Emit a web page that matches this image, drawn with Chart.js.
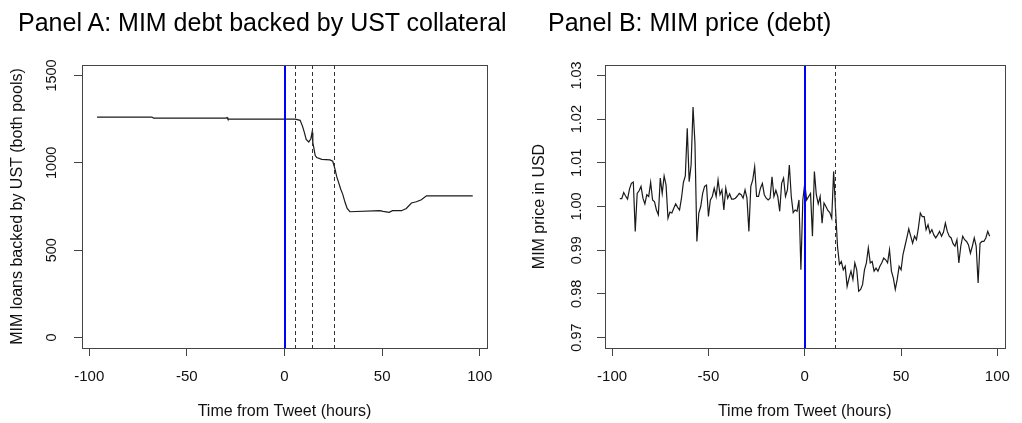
<!DOCTYPE html>
<html>
<head>
<meta charset="utf-8">
<script src="https://cdn.jsdelivr.net/npm/chart.js@4.4.0/dist/chart.umd.min.js"></script>
<style>
  body { margin: 0; background: #fff; width: 1022px; height: 423px; overflow: hidden; position: relative; font-family: "Liberation Sans", Arial, sans-serif; }
  .panel { position: absolute; top: 0; width: 511px; height: 423px; }
  .ptitle { position: absolute; top: 7px; font-size: 25px; line-height: 30px; color: #000; white-space: nowrap; }
</style>
</head>
<body>
<div class="panel" style="left:0"><canvas id="chartA" width="511" height="423"></canvas></div>
<div class="panel" style="left:511px"><canvas id="chartB" width="511" height="423"></canvas></div>
<div class="ptitle" style="left:18px">Panel A: MIM debt backed by UST collateral</div>
<div class="ptitle" style="left:548px">Panel B: MIM price (debt)</div>
<script>
// Panel A : MIM loans backed by UST (hours from tweet -> loans)
const hoursA = [-96, -68, -67, -30, -29.4, -29, 5.5, 8.0, 9.2, 10.2, 11.1, 12.4, 13.5, 14.1, 14.5, 15.0, 15.7, 16.5, 19.1, 23.3,
                24.7, 25.9, 26.7, 27.6, 28.8, 29.8, 31.0, 32.1, 33.5, 48.8, 50.5, 53.6, 55.3, 59.9, 62.4, 65.0, 67.5, 70.1, 72.7, 96.4];
const loansA = [1262, 1262, 1256, 1256, 1259, 1250, 1250, 1243, 1210, 1173, 1134, 1119, 1138, 1173, 1116, 1087, 1043, 1030, 1020, 1017,
                1009, 963, 922, 891, 849, 821, 774, 739, 720, 726, 722, 717, 726, 726, 739, 770, 777, 789, 811, 811];

// Panel B : MIM price, hourly
const hoursB = [
  -96, -95, -94, -93, -92, -91, -90, -89, -88, -87, -86, -85, -84, -83, -82, -81, -80, -79, -78, -77,
  -76, -75, -74, -73, -72, -71, -70, -69, -68, -67, -66, -65, -64, -63, -62, -61, -60, -59, -58, -57,
  -56, -55, -54, -53, -52, -51, -50, -49, -48, -47, -46, -45, -44, -43, -42, -41, -40, -39, -38, -37,
  -36, -35, -34, -33, -32, -31, -30, -29, -28, -27, -26, -25, -24, -23, -22, -21, -20, -19, -18, -17,
  -16, -15, -14, -13, -12, -11, -10, -9, -8, -7, -6, -5, -4, -3, -2, -1, 0, 1, 2, 3,
  4, 5, 6, 7, 8, 9, 10, 11, 12, 13, 14, 15, 16, 17, 18, 19, 20, 21, 22, 23,
  24, 25, 26, 27, 28, 29, 30, 31, 32, 33, 34, 35, 36, 37, 38, 39, 40, 41, 42, 43,
  44, 45, 46, 47, 48, 49, 50, 51, 52, 53, 54, 55, 56, 57, 58, 59, 60, 61, 62, 63,
  64, 65, 66, 67, 68, 69, 70, 71, 72, 73, 74, 75, 76, 77, 78, 79, 80, 81, 82, 83,
  84, 85, 86, 87, 88, 89, 90, 91, 92, 93, 94, 95, 96];
const priceB = [
  1.0018, 1.0018, 1.0032, 1.0024, 1.0017, 1.0040, 1.0053, 1.0056, 0.9943, 1.0030,
  1.0036, 1.0046, 1.0019, 1.0006, 1.0027, 1.0023, 1.0055, 1.0015, 1.0011, 0.9992,
  0.9981, 1.0065, 1.0030, 1.0070, 1.0049, 0.9973, 0.9987, 0.9985, 0.9996, 1.0006,
  0.9998, 0.9992, 1.0019, 1.0055, 1.0070, 1.0179, 1.0057, 1.0095, 1.0228, 1.0145,
  0.9920, 0.9985, 1.0000, 1.0030, 1.0046, 1.0049, 0.9977, 1.0015, 1.0023, 1.0042,
  1.0023, 1.0061, 1.0027, 1.0038, 0.9992, 1.0042, 1.0019, 1.0029, 1.0017, 1.0017,
  1.0019, 1.0024, 1.0030, 1.0027, 1.0019, 1.0038, 1.0019, 0.9943, 1.0046, 1.0061,
  1.0091, 1.0023, 1.0023, 1.0042, 1.0053, 1.0027, 1.0019, 1.0015, 1.0019, 1.0068,
  1.0023, 1.0037, 1.0023, 0.9989, 1.0053, 1.0065, 1.0023, 1.0038, 1.0095, 1.0023,
  0.9986, 0.9992, 0.9989, 1.0015, 0.9855, 1.0015, 1.0053, 1.0015, 1.0023, 1.0030,
  0.9932, 1.0080, 1.0027, 1.0006, 1.0023, 0.9962, 1.0008, 1.0000, 0.9991, 0.9986,
  0.9973, 1.0080, 0.9992, 0.9909, 0.9867, 0.9874, 0.9855, 0.9863, 0.9817, 0.9836,
  0.9852, 0.9833, 0.9871, 0.9855, 0.9806, 0.9810, 0.9821, 0.9855, 0.9871, 0.9905,
  0.9871, 0.9874, 0.9852, 0.9859, 0.9852, 0.9863, 0.9871, 0.9882, 0.9878, 0.9871,
  0.9901, 0.9852, 0.9836, 0.9810, 0.9833, 0.9863, 0.9855, 0.9890, 0.9909, 0.9928,
  0.9949, 0.9932, 0.9916, 0.9932, 0.9924, 0.9951, 0.9985, 0.9977, 0.9977, 0.9947,
  0.9958, 0.9939, 0.9947, 0.9935, 0.9928, 0.9935, 0.9943, 0.9932, 0.9941, 0.9962,
  0.9943, 0.9932, 0.9928, 0.9915, 0.9909, 0.9924, 0.9871, 0.9909, 0.9932, 0.9924,
  0.9920, 0.9912, 0.9893, 0.9909, 0.9928, 0.9909, 0.9825, 0.9916, 0.9920, 0.9920,
  0.9928, 0.9943, 0.9932];

// axis ticks and event lines
const xTicks = [-100, -50, 0, 50, 100];
const yTicksA = [0, 500, 1000, 1500];
const yTicksB = [0.97, 0.98, 0.99, 1.00, 1.01, 1.02, 1.03];
const tweetHour = [0];
const dashedA = [5.5, 14.2, 25.3];
const dashedB = [15.5];

Chart.defaults.font.family = "'Liberation Sans', Arial, sans-serif";
Chart.defaults.color = '#111';

// R-like box + vertical reference lines (abline)
const rBox = {
  id: 'rBox',
  afterDatasetsDraw(chart, args, opts) {
    const ctx = chart.ctx;
    const a = chart.chartArea;
    const x = chart.scales.x;
    ctx.save();
    ctx.lineWidth = 1;
    ctx.strokeStyle = '#333';
    ctx.setLineDash([4, 3]);
    opts.dashed.forEach(h => {
      const px = Math.round(x.getPixelForValue(h)) + 0.5;
      ctx.beginPath(); ctx.moveTo(px, a.top); ctx.lineTo(px, a.bottom); ctx.stroke();
    });
    ctx.setLineDash([]);
    ctx.strokeStyle = '#0000ff';
    ctx.lineWidth = 2;
    tweetHour.forEach(h => {
      const px = Math.round(x.getPixelForValue(h));
      ctx.beginPath(); ctx.moveTo(px, a.top); ctx.lineTo(px, a.bottom); ctx.stroke();
    });
    ctx.strokeStyle = '#444';
    ctx.lineWidth = 1;
    ctx.strokeRect(Math.round(a.left) + 0.5, Math.round(a.top) + 0.5, Math.round(a.width), Math.round(a.height));
    ctx.restore();
  }
};

function baseOptions(o) {
  return {
    responsive: false,
    animation: false,
    layout: { padding: { left: 0, right: o.padRight, top: 65, bottom: 0 } },
    elements: { point: { radius: 0 } },
    plugins: {
      legend: { display: false },
      tooltip: { enabled: false },
      rBox: { dashed: o.dashed }
    },
    scales: {
      x: {
        type: 'linear',
        min: -103.7, max: 103.7,
        afterBuildTicks: s => { s.ticks = xTicks.map(v => ({ value: v })); },
        afterFit: s => { s.height = 75; },
        ticks: { font: { size: 15 }, padding: 12, color: '#111', autoSkip: false, maxRotation: 0 },
        grid: { drawOnChartArea: false, drawTicks: true, tickLength: 8, color: '#444' },
        border: { display: false },
        title: { display: true, text: 'Time from Tweet (hours)', font: { size: 16 }, color: '#111', padding: { top: 0, bottom: 1.4 } }
      },
      y: {
        min: o.yMin, max: o.yMax,
        afterBuildTicks: s => { s.ticks = o.yTicks.map(v => ({ value: v })); },
        afterFit: s => { s.width = o.yWidth; },
        ticks: { font: { size: 14.5 }, padding: o.tickPad, color: '#111', autoSkip: false,
                 minRotation: 90, maxRotation: 90, crossAlign: 'center', callback: o.fmt },
        grid: { drawOnChartArea: false, drawTicks: true, tickLength: 8, color: '#444' },
        border: { display: false },
        title: { display: true, text: o.yTitle, font: { size: 16 }, color: '#111', padding: { top: o.titlePad, bottom: 0 } }
      }
    }
  };
}

new Chart(document.getElementById('chartA'), {
  type: 'line',
  data: {
    datasets: [{
      data: hoursA.map((h, i) => ({ x: h, y: loansA[i] })),
      borderColor: '#1a1a1a', borderWidth: 1.2, fill: false, tension: 0
    }]
  },
  options: baseOptions({
    padRight: 24, yMin: -60, yMax: 1560, yTicks: yTicksA, yWidth: 82, tickPad: 5.4, titlePad: 8.4,
    yTitle: 'MIM loans backed by UST (both pools)', dashed: dashedA, fmt: v => String(v)
  }),
  plugins: [rBox]
});

new Chart(document.getElementById('chartB'), {
  type: 'line',
  data: {
    datasets: [{
      data: hoursB.map((h, i) => ({ x: h, y: priceB[i] })),
      borderColor: '#1a1a1a', borderWidth: 1.2, fill: false, tension: 0
    }]
  },
  options: baseOptions({
    padRight: 6, yMin: 0.9676, yMax: 1.0324, yTicks: yTicksB, yWidth: 94, tickPad: 5.9, titlePad: 19.4,
    yTitle: 'MIM price in USD', dashed: dashedB, fmt: v => Number(v).toFixed(2)
  }),
  plugins: [rBox]
});
</script>
</body>
</html>
